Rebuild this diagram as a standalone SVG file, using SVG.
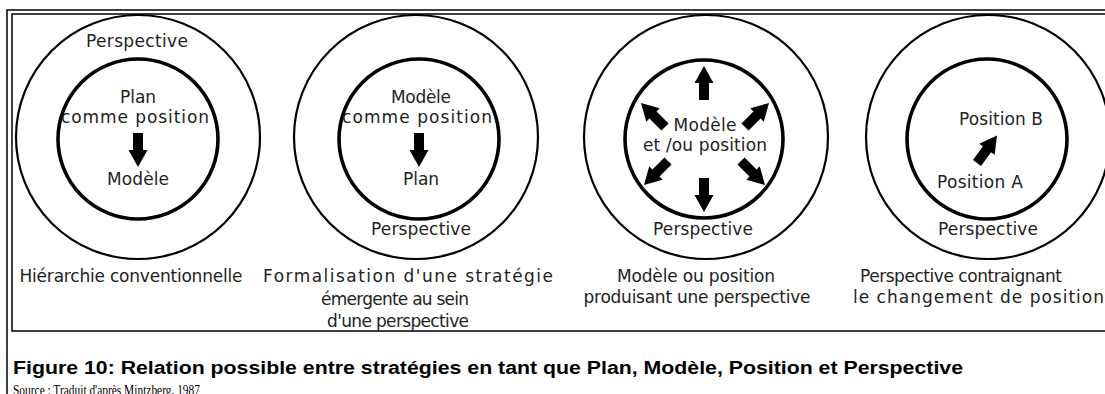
<svg xmlns="http://www.w3.org/2000/svg" xmlns:xlink="http://www.w3.org/1999/xlink" width="1105" height="394" viewBox="0 0 1105 394">
<style>
.frame{fill:none;stroke:#000;stroke-width:1.5}
.outer{fill:none;stroke:#000;stroke-width:2.2}
.inner{fill:none;stroke:#000;stroke-width:3.6}
.t{font-family:"DejaVu Sans","Verdana",sans-serif;font-size:17px;fill:#222;text-anchor:middle}
.c{font-family:"DejaVu Sans","Verdana",sans-serif;font-size:17px;fill:#222;text-anchor:middle}
.cap{font-family:"Liberation Sans",Arial,sans-serif;font-weight:bold;font-size:18px;fill:#000}
.src{font-family:"Liberation Serif","Times New Roman",serif;font-size:14px;fill:#000}
.arr{fill:#000}
</style>
<defs>
<path id="arrow" d="M0,-5 H17 V-9.5 L34,0 L17,9.5 V5 H0 Z"/>
</defs>
<rect width="1105" height="394" fill="#fff"/>
<g id="frames">
<path class="frame" d="M7,400 V10 H1110"/>
<path class="frame" d="M1110,331 H12 V14 H1110"/>
</g>
<g id="diagram1">
<circle class="outer" cx="138" cy="137" r="122"/>
<circle class="inner" cx="138" cy="139" r="80"/>
<text class="t" x="137" y="47" textLength="102" lengthAdjust="spacing">Perspective</text>
<text class="t" x="138" y="103">Plan</text>
<text class="t" x="135" y="123" textLength="148" lengthAdjust="spacing">comme position</text>
<text class="t" x="138" y="185" textLength="62" lengthAdjust="spacing">Modèle</text>
<text class="c" x="131" y="282" textLength="223" lengthAdjust="spacing">Hiérarchie conventionnelle</text>
</g>
<g id="diagram2">
<circle class="outer" cx="416" cy="137" r="122"/>
<circle class="inner" cx="419" cy="139" r="80"/>
<text class="t" x="421" y="103" textLength="60" lengthAdjust="spacing">Modèle</text>
<text class="t" x="417" y="123" textLength="150" lengthAdjust="spacing">comme position</text>
<text class="t" x="421" y="185">Plan</text>
<text class="t" x="421" y="235" textLength="100" lengthAdjust="spacing">Perspective</text>
<text class="c" x="408" y="282" textLength="290" lengthAdjust="spacing">Formalisation d'une stratégie</text>
<text class="c" x="395" y="305" textLength="148" lengthAdjust="spacing">émergente au sein</text>
<text class="c" x="398" y="327" textLength="142" lengthAdjust="spacing">d'une perspective</text>
</g>
<g id="diagram3">
<circle class="outer" cx="706" cy="137" r="122"/>
<circle class="inner" cx="704" cy="139" r="79"/>
<text class="t" x="705" y="131" textLength="63" lengthAdjust="spacing">Modèle</text>
<text class="t" x="705" y="151" textLength="124" lengthAdjust="spacing">et /ou position</text>
<text class="t" x="703" y="235" textLength="100" lengthAdjust="spacing">Perspective</text>
<text class="c" x="696" y="282" textLength="158" lengthAdjust="spacing">Modèle ou position</text>
<text class="c" x="697" y="303" textLength="227" lengthAdjust="spacing">produisant une perspective</text>
</g>
<g id="diagram4">
<circle class="outer" cx="988" cy="137" r="122"/>
<circle class="inner" cx="987" cy="139" r="80"/>
<text class="t" x="1001" y="125" textLength="84" lengthAdjust="spacing">Position B</text>
<text class="t" x="980" y="188" textLength="86" lengthAdjust="spacing">Position A</text>
<text class="t" x="988" y="235" textLength="100" lengthAdjust="spacing">Perspective</text>
<text class="c" x="961" y="282" textLength="202" lengthAdjust="spacing">Perspective contraignant</text>
<text class="c" x="853" y="303" textLength="251" lengthAdjust="spacing" style="text-anchor:start">le changement de position</text>
</g>
<g id="connectors" class="arr">
<use xlink:href="#arrow" transform="translate(138,133) rotate(90)"/>
<use xlink:href="#arrow" transform="translate(419,133) rotate(90)"/>
<use xlink:href="#arrow" transform="translate(704,100) rotate(-90)"/>
<use xlink:href="#arrow" transform="translate(704,178) rotate(90)"/>
<use xlink:href="#arrow" transform="translate(665,127) rotate(-135)"/>
<use xlink:href="#arrow" transform="translate(745,127) rotate(-45)"/>
<use xlink:href="#arrow" transform="translate(668,161) rotate(135)"/>
<use xlink:href="#arrow" transform="translate(741,161) rotate(45)"/>
<use xlink:href="#arrow" transform="translate(977,163) rotate(-54)"/>
</g>
<g id="caption">
<text class="cap" x="13" y="374" textLength="950" lengthAdjust="spacingAndGlyphs">Figure 10: Relation possible entre stratégies en tant que Plan, Modèle, Position et Perspective</text>
<text class="src" x="13" y="395" textLength="187" lengthAdjust="spacingAndGlyphs">Source : Traduit d'après Mintzberg, 1987</text>
</g>
</svg>
